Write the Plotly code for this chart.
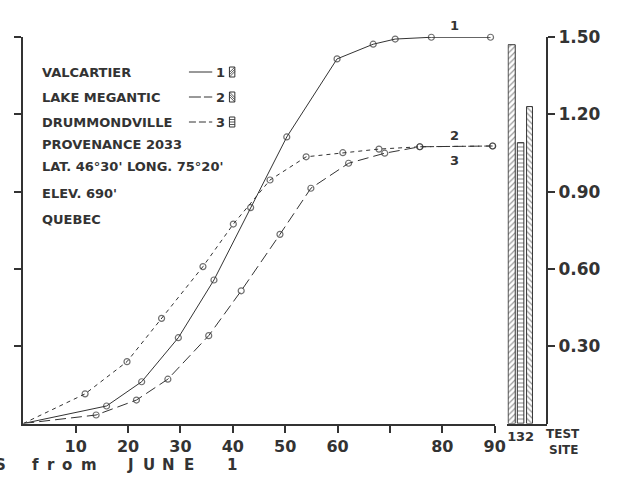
import plotly.graph_objects as go

# ---- data -------------------------------------------------------------
# Cumulative growth curves (days from June 1 vs. value)
valcartier_days = [0, 15.9, 22.6, 29.6, 36.4, 43.4, 50.3, 59.9, 66.8, 71.0, 77.9, 89.2]
valcartier_vals = [0, 0.068, 0.162, 0.333, 0.557, 0.838, 1.112, 1.415, 1.472, 1.492, 1.499, 1.499]

megantic_days = [0, 13.9, 21.6, 27.6, 35.4, 41.6, 49.0, 54.9, 62.1, 69.0, 75.7, 89.6]
megantic_vals = [0, 0.033, 0.091, 0.172, 0.341, 0.515, 0.734, 0.913, 1.010, 1.049, 1.074, 1.077]

drummond_days = [0, 11.8, 19.8, 26.4, 34.3, 40.1, 47.1, 54.0, 61.0, 67.9, 75.7, 89.6]
drummond_vals = [0, 0.115, 0.240, 0.408, 0.609, 0.774, 0.945, 1.035, 1.051, 1.065, 1.074, 1.077]

# Test-site bars (order along the axis: 1, 3, 2)
site_labels = ["1", "3", "2"]
site_values = [1.47, 1.09, 1.23]
site_patterns = ["/", "-", "\\"]

x_tick_vals = [10, 20, 30, 40, 50, 60, 70, 80, 90]
x_tick_text = ["10", "20", "30", "40", "50", "60", "", "80", "90"]
y_tick_vals = [0.30, 0.60, 0.90, 1.20, 1.50]
y_tick_text = ["0.30", "0.60", "0.90", "1.20", "1.50"]

legend_rows = [
    "VALCARTIER",
    "LAKE MEGANTIC",
    "DRUMMONDVILLE",
    "PROVENANCE 2033",
    "LAT. 46°30' LONG. 75°20'",
    "ELEV. 690'",
    "QUEBEC",
]

# ---- styling ------------------------------------------------------------
W, H = 631, 486
INK = "#333333"
FONT = "DejaVu Sans"


def px(x):
    return x / W


def py(y):
    return 1 - y / H


def bold(size):
    return dict(family=FONT, size=size, color=INK, weight="bold")


def curve(days, vals, dash, name):
    sizes = [0] + [6] * (len(days) - 1)
    return go.Scatter(
        x=days, y=vals, mode="lines+markers", name=name,
        line=dict(color=INK, width=1, dash=dash),
        marker=dict(symbol="circle-open", size=sizes, color=INK,
                    line=dict(width=1.2, color=INK)),
        cliponaxis=False, xaxis="x", yaxis="y", showlegend=False,
    )


fig = go.Figure()
fig.add_trace(curve(valcartier_days, valcartier_vals, "solid", "VALCARTIER"))
fig.add_trace(curve(megantic_days, megantic_vals, "11px,5px", "LAKE MEGANTIC"))
fig.add_trace(curve(drummond_days, drummond_vals, "4px,4px", "DRUMMONDVILLE"))

fig.add_trace(go.Bar(
    x=[1, 2, 3], y=site_values, width=[0.8, 0.73, 0.66],
    marker=dict(color="white", line=dict(color=INK, width=1),
                pattern=dict(shape=site_patterns, fgcolor=INK, bgcolor="white",
                             size=4, solidity=0.3)),
    xaxis="x2", yaxis="y2", showlegend=False,
))

y_dom = [py(423.5), py(37)]

fig.update_layout(
    width=W, height=H, autosize=False,
    margin=dict(l=0, r=0, t=0, b=0, pad=0),
    paper_bgcolor="white", plot_bgcolor="white",
    xaxis=dict(domain=[px(23.7), px(503.5)], range=[0, 90], anchor="y",
               showline=True, linewidth=2, linecolor=INK,
               ticks="outside", ticklen=7, tickwidth=1.5, tickcolor=INK,
               tickvals=x_tick_vals, ticktext=x_tick_text, tickfont=bold(16),
               tickangle=0, showgrid=False, zeroline=False),
    yaxis=dict(domain=y_dom, range=[0, 1.5], anchor="x",
               showline=True, linewidth=2, linecolor=INK,
               ticks="outside", ticklen=7, tickwidth=1.5, tickcolor=INK,
               tickvals=y_tick_vals, showticklabels=False,
               showgrid=False, zeroline=False),
    xaxis2=dict(domain=[px(516.5), px(557)], range=[0.533, 4.99], anchor="y2",
                showline=True, linewidth=2, linecolor=INK, ticks="",
                tickvals=[1, 2, 3], ticktext=site_labels, tickfont=bold(13),
                tickangle=0, showgrid=False, zeroline=False),
    yaxis2=dict(overlaying="y", side="right", anchor="free", position=px(556.7),
                range=[0, 1.5], showline=True, linewidth=2, linecolor=INK,
                ticks="outside", ticklen=7, tickwidth=1.5, tickcolor=INK,
                tickvals=y_tick_vals, ticktext=y_tick_text, tickfont=bold(17),
                automargin=False, showgrid=False, zeroline=False),
)

annotations = []
shapes = []

# curve end labels
for txt, yy in [("1", 25), ("2", 135), ("3", 160)]:
    annotations.append(dict(x=px(462.7), y=py(yy), xref="paper", yref="paper",
                            text=txt, showarrow=False, xanchor="center",
                            yanchor="middle", font=bold(13)))

# descriptive block
row_y = [72, 97, 122, 144, 166, 193, 219]
for txt, yy in zip(legend_rows, row_y):
    annotations.append(dict(x=px(41), y=py(yy), xref="paper", yref="paper",
                            text=txt, showarrow=False, xanchor="left",
                            yanchor="middle", font=bold(13)))

# line keys, numbers and hatched swatches
key_dash = ["solid", "12px,3px", "7px,3px"]
for i, (yy, dash) in enumerate(zip(row_y[:3], key_dash)):
    shapes.append(dict(type="line", xref="paper", yref="paper",
                       x0=px(192.3), x1=px(216), y0=py(yy), y1=py(yy),
                       line=dict(color=INK, width=1, dash=dash)))
    annotations.append(dict(x=px(224.7), y=py(yy), xref="paper", yref="paper",
                            text=str(i + 1), showarrow=False, xanchor="center",
                            yanchor="middle", font=bold(13)))
    bx0, bx1, by0, by1 = 233.5, 239.0, yy - 5, yy + 5
    shapes.append(dict(type="rect", xref="paper", yref="paper",
                       x0=px(bx0), x1=px(bx1), y0=py(by1), y1=py(by0),
                       line=dict(color=INK, width=1), fillcolor="white"))
    w = bx1 - bx0
    segs = []
    if i == 0:      # "/"
        for t in [0, 2.25, 4.5]:
            segs.append((bx0, by1 - t, bx1, by1 - t - w))
    elif i == 1:    # "\"
        for t in [0, 2.25, 4.5]:
            segs.append((bx0, by0 + t, bx1, by0 + t + w))
    else:           # horizontal
        for t in [2.5, 5, 7.5]:
            segs.append((bx0, by0 + t, bx1, by0 + t))
    for (a, b, c, d) in segs:
        shapes.append(dict(type="line", xref="paper", yref="paper",
                           x0=px(a), y0=py(b), x1=px(c), y1=py(d),
                           line=dict(color=INK, width=0.8)))

# "TEST SITE" caption
annotations.append(dict(x=px(592), y=py(433.5), xref="paper", yref="paper",
                        text="TEST", showarrow=False, xanchor="right",
                        yanchor="middle", font=bold(12)))
annotations.append(dict(x=px(591), y=py(449.5), xref="paper", yref="paper",
                        text="SITE", showarrow=False, xanchor="right",
                        yanchor="middle", font=bold(12)))

# letter-spaced x-axis title
title_letters = [("S", 0.5, "center"), ("f", 36.5, "center"), ("r", 52, "center"),
                 ("o", 68, "center"), ("m", 91, "center"), ("J", 132.5, "center"),
                 ("U", 152, "center"), ("N", 171, "center"), ("E", 192, "center"),
                 ("1", 236.5, "center")]
for ch, xx, anchor in title_letters:
    annotations.append(dict(x=px(xx), y=py(465), xref="paper", yref="paper",
                            text=ch, showarrow=False, xanchor=anchor,
                            yanchor="middle", font=bold(15)))

fig.update_layout(annotations=annotations, shapes=shapes)

fig.write_html(
    "out.html",
    config={"displayModeBar": False, "responsive": False},
    post_script=(
        "document.documentElement.style.margin='0';"
        "document.body.style.margin='0';document.body.style.overflow='hidden';"
        "var g=document.getElementById('{plot_id}');"
        "g.style.position='fixed';g.style.left='0px';g.style.top='0px';"
    ),
)
